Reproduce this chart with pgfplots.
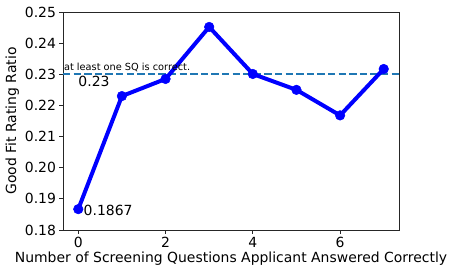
\documentclass[border=0pt]{standalone}
\usepackage{pgfplots}
\pgfplotsset{compat=1.18}
\usepackage{fontspec}
\setmainfont{DejaVu Sans}
\definecolor{tabblue}{HTML}{1F77B4}
\begin{document}
\begin{tikzpicture}[x=1bp,y=1bp]
\useasboundingbox (-63,-46) rectangle (392,230);
\begin{axis}[
  at={(0,0)}, anchor=south west,
  scale only axis, width=336bp, height=218bp,
  xmin=-0.35, xmax=7.35, ymin=0.18, ymax=0.25,
  xtick={0,2,4,6}, ytick={0.18,0.19,0.20,0.21,0.22,0.23,0.24,0.25},
  yticklabel style={/pgf/number format/.cd,fixed,fixed zerofill,precision=2},
  /pgf/number format/assume math mode=true,
  ticklabel style={font=\fontsize{14}{16}\selectfont},
  label style={font=\fontsize{14}{16}\selectfont},
  xlabel={Number of Screening Questions Applicant Answered Correctly},
  ylabel={Good Fit Rating Ratio},
  tick align=outside, tick pos=left,
  major tick length=3.5bp,
  axis line style={line width=0.8bp, black!85},
  every tick/.style={line width=0.8bp, black!85},
  xlabel style={yshift=3bp},
  ylabel style={yshift=-1bp},
  clip=false,
]
\addplot[tabblue, line width=2bp, dash pattern=on 7.4bp off 3.2bp, forget plot] coordinates {(-0.35,0.23) (7.35,0.23)};
\addplot[blue, line width=4bp, mark=*, mark size=4.8bp, mark options={solid, line width=0.5bp}] coordinates {
(0,0.1867) (1,0.2230) (2,0.2285) (3,0.2452) (4,0.2301) (5,0.2250) (6,0.2168) (7,0.2317)};
\node[anchor=south west, font=\fontsize{9.8}{11}\selectfont, inner sep=0pt] at (axis cs:-0.33,0.2309) {at least one SQ is correct.};
\node[anchor=north west, font=\fontsize{14}{16}\selectfont, inner sep=0pt] at (axis cs:0.0,0.2294) {0.23};
\node[anchor=west, font=\fontsize{14}{16}\selectfont, inner sep=0pt] at (axis cs:0.12,0.1862) {0.1867};
\end{axis}
\end{tikzpicture}
\end{document}
